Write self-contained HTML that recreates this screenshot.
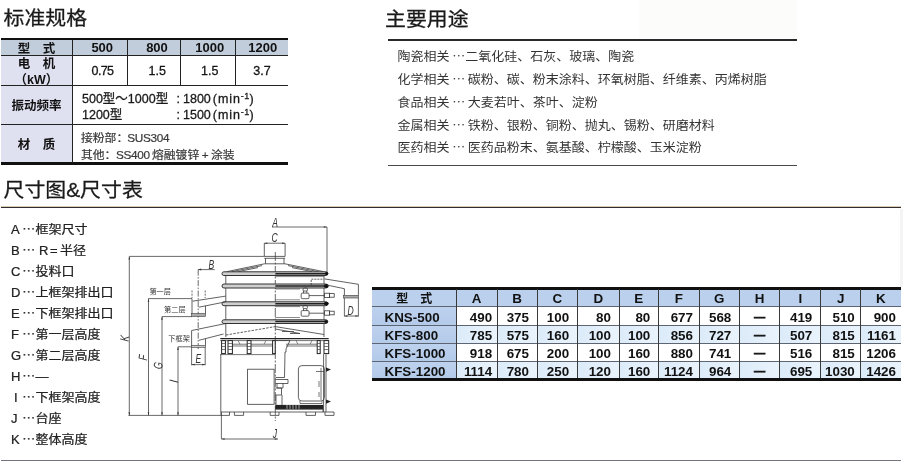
<!DOCTYPE html>
<html lang="zh-CN">
<head>
<meta charset="utf-8">
<title>标准规格</title>
<style>
html,body{margin:0;padding:0;background:#fff;}
body{width:905px;height:475px;position:relative;overflow:hidden;font-family:"Liberation Sans","Noto Sans CJK SC",sans-serif;color:#222;}
#wrap{position:absolute;left:0;top:0;width:905px;height:475px;will-change:transform;}
.abs{position:absolute;white-space:nowrap;}
.cjk{font-family:"Noto Sans CJK SC",sans-serif;}
h2{-webkit-text-stroke:0.3px #1a1a1a;transform:scaleY(0.93);transform-origin:0 50%;position:absolute;margin:0;font-weight:400;font-size:20.9px;line-height:24px;color:#1a1a1a;white-space:nowrap;}
.ln{position:absolute;background:#222;}
/* table 1 */
#t1{position:absolute;left:1px;top:38px;width:287px;height:127px;}
#t1 .c{position:absolute;box-sizing:border-box;display:flex;align-items:center;justify-content:center;text-align:center;white-space:nowrap;}
#t1 .h{background:#c1cddb;font-weight:700;font-size:12.5px;color:#111;}
#t1 .n{font-size:13px;}
#t1 .l{background:#dfe1f1;font-weight:700;font-size:12.5px;color:#111;line-height:14px;}
#t1 .v{font-size:12.5px;color:#151515;-webkit-text-stroke:0.3px #151515;padding-top:1px;}
#t1 .t3{font-size:12.5px;line-height:16px;color:#1a1a1a;font-weight:400;-webkit-text-stroke:0.3px #1a1a1a;}
#t1 .p{margin-left:2px;}
#t1 .t4{font-size:11.8px;line-height:17px;color:#383838;-webkit-text-stroke:0.2px #383838;}
#t1 .la{letter-spacing:-0.35px;}
#t1 .mn{letter-spacing:0.9px;margin-left:1px;}
#t1 sup{font-size:9px;line-height:0;vertical-align:4.5px;letter-spacing:0.3px;}
/* uses */
.use{word-spacing:-1px;transform:scaleY(0.93);transform-origin:0 50%;position:absolute;left:397.5px;font-size:13px;line-height:23px;color:#333;white-space:nowrap;}
/* table 2 */
#t2{position:absolute;left:372px;top:287.4px;width:529px;height:94px;}
#t2 .c{position:absolute;box-sizing:border-box;display:flex;align-items:center;white-space:nowrap;font-weight:700;font-size:13.4px;color:#111;padding-top:2.6px;}
#t2 .h{background:#bad0ec;justify-content:center;padding-top:1.6px;}
#t2 .hz{font-size:12px;position:relative;top:-1px;}
#t2 .m{background:linear-gradient(#bdd2ee,#b3cae9);padding-left:12.5px;}
#t2 .d{justify-content:flex-end;background:#fff;}
#t2 .alt{background:linear-gradient(90deg,#dcebf9,#e9f3fc);}
#t2 .ctr{justify-content:center;font-size:11.2px;-webkit-text-stroke:0.5px #111;padding-top:1.6px;}
#t2 .hl{background:#5d6572;}
#t2 .vl{background:#3a3a3a;}
/* legend */
.lg .k{display:inline-block;width:11px;}
.lg .e{display:inline-block;width:13.5px;text-align:center;}
.lg{transform:scaleY(0.92);transform-origin:0 50%;-webkit-text-stroke:0.25px #222;position:absolute;left:11px;font-size:13px;line-height:21px;color:#222;white-space:nowrap;}
</style>
</head>
<body>
<div id="wrap">
<!-- faint scan artefacts -->
<div style="position:absolute;left:638.5px;top:0;width:158.5px;height:38px;background:#fcfcfb;"></div>
<div style="position:absolute;left:900px;top:209px;width:3px;height:78px;background:#f4f4f4;"></div>
<h2 style="left:3.5px;top:5.7px;">标准规格</h2>
<h2 style="left:385px;top:6.6px;">主要用途</h2>
<h2 style="left:3.5px;top:177.5px;">尺寸图&amp;尺寸表</h2>

<div id="t1">
  <div class="ln" style="left:0;top:0;width:287px;height:2.6px;background:#111;"></div>
  <div class="c h" style="left:0;top:2px;width:71px;height:15px;">型&emsp;式</div>
  <div class="c h n" style="left:71px;top:2px;width:55px;height:15px;padding-left:5.5px;">500</div>
  <div class="c h n" style="left:126px;top:2px;width:54px;height:15px;padding-left:6px;">800</div>
  <div class="c h n" style="left:180px;top:2px;width:54.5px;height:15px;padding-left:3px;">1000</div>
  <div class="c h n" style="left:234.5px;top:2px;width:52.5px;height:15px;padding-left:2px;">1200</div>
  <div class="c l" style="left:0;top:17px;width:71px;height:31px;line-height:15.5px;padding-top:4px;">电&emsp;机<br>（kW）</div>
  <div class="c v" style="left:71px;top:17px;width:55px;height:31px;padding-left:6px;letter-spacing:-0.6px;">0.75</div>
  <div class="c v" style="left:126px;top:17px;width:54px;height:31px;padding-left:6.5px;">1.5</div>
  <div class="c v" style="left:180px;top:17px;width:54.5px;height:31px;padding-left:3px;">1.5</div>
  <div class="c v" style="left:234.5px;top:17px;width:52.5px;height:31px;padding-left:0.5px;">3.7</div>
  <div class="c l" style="left:0;top:48px;width:71px;height:38.5px;padding-top:2px;">振动频率</div>
  <div class="c l" style="left:0;top:86.5px;width:71px;height:38.5px;padding-top:2px;">材&emsp;质</div>

  <div class="abs t3" style="left:81px;top:53px;">500型～1000型</div>
  <div class="abs t3" style="left:81px;top:69px;">1200型</div>
  <div class="abs t3" style="left:175.5px;top:53px;">:</div>
  <div class="abs t3" style="left:175.5px;top:69px;">:</div>
  <div class="abs t3" style="left:182px;top:53px;">1800<span class="p">(</span><span class="mn">min</span><sup>-1</sup>)</div>
  <div class="abs t3" style="left:182px;top:69px;">1500<span class="p">(</span><span class="mn">min</span><sup>-1</sup>)</div>
  <div class="abs t4" style="left:80px;top:92px;">接粉部：</div>
  <div class="abs t4 la" style="left:126.3px;top:92px;">SUS304</div>
  <div class="abs t4" style="left:80px;top:109px;">其他：</div>
  <div class="abs t4 la" style="left:115px;top:109px;">SS400</div>
  <div class="abs t4" style="left:151px;top:109px;">熔融镀锌</div>
  <div class="abs t4" style="left:200.7px;top:109px;">+</div>
  <div class="abs t4" style="left:210px;top:109px;">涂装</div>
  <!-- grid lines -->
  <div class="ln" style="left:0;top:16.5px;width:287px;height:1px;"></div>
  <div class="ln" style="left:0;top:47.3px;width:287px;height:1px;"></div>
  <div class="ln" style="left:0;top:86px;width:287px;height:1px;"></div>
  <div class="ln" style="left:0;top:124.3px;width:287px;height:2.4px;background:#111;"></div>
  <div class="ln" style="left:70.5px;top:2px;width:1.5px;height:123px;"></div>
  <div class="ln" style="left:125.5px;top:2px;width:1px;height:46px;"></div>
  <div class="ln" style="left:179.3px;top:2px;width:1px;height:46px;"></div>
  <div class="ln" style="left:234px;top:2px;width:1px;height:46px;"></div>
</div>

<!-- uses -->
<div class="ln" style="left:388px;top:39px;width:409px;height:2px;background:#2a2a2a;"></div>
<div class="ln" style="left:388px;top:165px;width:409px;height:1px;background:#4a4a4a;"></div>
<div class="use" style="top:44px;">陶瓷相关 <span class="cjk">…</span>二氧化硅、石灰、玻璃、陶瓷</div>
<div class="use" style="top:67px;">化学相关 <span class="cjk">…</span> 碳粉、碳、粉末涂料、环氧树脂、纤维素、丙烯树脂</div>
<div class="use" style="top:90px;">食品相关 <span class="cjk">…</span> 大麦若叶、茶叶、淀粉</div>
<div class="use" style="top:113px;">金属相关 <span class="cjk">…</span> 铁粉、银粉、铜粉、抛丸、锡粉、研磨材料</div>
<div class="use" style="top:135px;">医药相关 <span class="cjk">…</span> 医药品粉末、氨基酸、柠檬酸、玉米淀粉</div>

<!-- section lines -->
<div class="ln" style="left:1px;top:206px;width:900px;height:1px;background:#dccab0;"></div>
<div class="ln" style="left:1px;top:206.8px;width:900px;height:1.5px;background:#2e2e32;"></div>
<div class="ln" style="left:1px;top:460px;width:900px;height:1px;background:#74747c;"></div>

<!-- legend -->
<div class="lg" style="top:218px;"><span class="k">A</span><span class="e cjk">…</span>框架尺寸</div>
<div class="lg" style="top:239px;"><span class="k">B</span><span class="e cjk">…</span> R<span style="margin:0 2.5px 0 1.5px">=</span>半径</div>
<div class="lg" style="top:260px;"><span class="k">C</span><span class="e cjk">…</span>投料口</div>
<div class="lg" style="top:281px;"><span class="k">D</span><span class="e cjk">…</span>上框架排出口</div>
<div class="lg" style="top:302px;"><span class="k">E</span><span class="e cjk">…</span>下框架排出口</div>
<div class="lg" style="top:323px;"><span class="k">F</span><span class="e cjk">…</span>第一层高度</div>
<div class="lg" style="top:344px;"><span class="k">G</span><span class="e cjk">…</span>第二层高度</div>
<div class="lg" style="top:365px;"><span class="k">H</span><span class="e cjk">…</span>—</div>
<div class="lg" style="top:386px;"><span class="k" style="padding-left:3px;width:8px;">I</span><span class="e cjk">…</span>下框架高度</div>
<div class="lg" style="top:407px;"><span class="k">J</span><span class="e cjk">…</span>台座</div>
<div class="lg" style="top:428px;"><span class="k">K</span><span class="e cjk">…</span>整体高度</div>

<!-- table 2 -->
<div id="t2">
  <div class="c h" style="left:0px;top:2.5px;width:84.3px;height:16.5px;"><span class="hz">型&emsp;式</span></div>
  <div class="c h" style="left:84.3px;top:2.5px;width:40.7px;height:16.5px;">A</div>
  <div class="c h" style="left:125px;top:2.5px;width:40px;height:16.5px;">B</div>
  <div class="c h" style="left:165px;top:2.5px;width:40.5px;height:16.5px;">C</div>
  <div class="c h" style="left:205.5px;top:2.5px;width:41.7px;height:16.5px;">D</div>
  <div class="c h" style="left:247.2px;top:2.5px;width:39.3px;height:16.5px;">E</div>
  <div class="c h" style="left:286.5px;top:2.5px;width:40.5px;height:16.5px;">F</div>
  <div class="c h" style="left:327px;top:2.5px;width:40.5px;height:16.5px;">G</div>
  <div class="c h" style="left:367.5px;top:2.5px;width:40.3px;height:16.5px;">H</div>
  <div class="c h" style="left:407.8px;top:2.5px;width:41px;height:16.5px;">I</div>
  <div class="c h" style="left:448.8px;top:2.5px;width:40px;height:16.5px;">J</div>
  <div class="c h" style="left:488.8px;top:2.5px;width:40.2px;height:16.5px;">K</div>
  <div class="c m" style="left:0px;top:19px;width:84.3px;height:18.7px;">KNS-500</div>
  <div class="c d" style="left:84.3px;top:19px;width:40.7px;height:18.7px;padding-right:4.8px;">490</div>
  <div class="c d" style="left:125px;top:19px;width:40px;height:18.7px;padding-right:8px;">375</div>
  <div class="c d" style="left:165px;top:19px;width:40.5px;height:18.7px;padding-right:8.3px;">100</div>
  <div class="c d" style="left:205.5px;top:19px;width:41.7px;height:18.7px;padding-right:8.2px;">80</div>
  <div class="c d" style="left:247.2px;top:19px;width:39.3px;height:18.7px;padding-right:8.2px;">80</div>
  <div class="c d" style="left:286.5px;top:19px;width:40.5px;height:18.7px;padding-right:6px;">677</div>
  <div class="c d" style="left:327px;top:19px;width:40.5px;height:18.7px;padding-right:8.2px;">568</div>
  <div class="c d ctr" style="left:367.5px;top:19px;width:40.3px;height:18.7px;">—</div>
  <div class="c d" style="left:407.8px;top:19px;width:41px;height:18.7px;padding-right:8.5px;">419</div>
  <div class="c d" style="left:448.8px;top:19px;width:40px;height:18.7px;padding-right:6px;">510</div>
  <div class="c d" style="left:488.8px;top:19px;width:40.2px;height:18.7px;padding-right:5px;">900</div>
  <div class="c m" style="left:0px;top:37.7px;width:84.3px;height:18px;">KFS-800</div>
  <div class="c d alt" style="left:84.3px;top:37.7px;width:40.7px;height:18px;padding-right:4.8px;">785</div>
  <div class="c d alt" style="left:125px;top:37.7px;width:40px;height:18px;padding-right:8px;">575</div>
  <div class="c d alt" style="left:165px;top:37.7px;width:40.5px;height:18px;padding-right:8.3px;">160</div>
  <div class="c d alt" style="left:205.5px;top:37.7px;width:41.7px;height:18px;padding-right:8.2px;">100</div>
  <div class="c d alt" style="left:247.2px;top:37.7px;width:39.3px;height:18px;padding-right:8.2px;">100</div>
  <div class="c d alt" style="left:286.5px;top:37.7px;width:40.5px;height:18px;padding-right:6px;">856</div>
  <div class="c d alt" style="left:327px;top:37.7px;width:40.5px;height:18px;padding-right:8.2px;">727</div>
  <div class="c d alt ctr" style="left:367.5px;top:37.7px;width:40.3px;height:18px;">—</div>
  <div class="c d alt" style="left:407.8px;top:37.7px;width:41px;height:18px;padding-right:8.5px;">507</div>
  <div class="c d alt" style="left:448.8px;top:37.7px;width:40px;height:18px;padding-right:6px;">815</div>
  <div class="c d alt" style="left:488.8px;top:37.7px;width:40.2px;height:18px;padding-right:5px;">1161</div>
  <div class="c m" style="left:0px;top:55.7px;width:84.3px;height:18.1px;">KFS-1000</div>
  <div class="c d" style="left:84.3px;top:55.7px;width:40.7px;height:18.1px;padding-right:4.8px;">918</div>
  <div class="c d" style="left:125px;top:55.7px;width:40px;height:18.1px;padding-right:8px;">675</div>
  <div class="c d" style="left:165px;top:55.7px;width:40.5px;height:18.1px;padding-right:8.3px;">200</div>
  <div class="c d" style="left:205.5px;top:55.7px;width:41.7px;height:18.1px;padding-right:8.2px;">100</div>
  <div class="c d" style="left:247.2px;top:55.7px;width:39.3px;height:18.1px;padding-right:8.2px;">160</div>
  <div class="c d" style="left:286.5px;top:55.7px;width:40.5px;height:18.1px;padding-right:6px;">880</div>
  <div class="c d" style="left:327px;top:55.7px;width:40.5px;height:18.1px;padding-right:8.2px;">741</div>
  <div class="c d ctr" style="left:367.5px;top:55.7px;width:40.3px;height:18.1px;">—</div>
  <div class="c d" style="left:407.8px;top:55.7px;width:41px;height:18.1px;padding-right:8.5px;">516</div>
  <div class="c d" style="left:448.8px;top:55.7px;width:40px;height:18.1px;padding-right:6px;">815</div>
  <div class="c d" style="left:488.8px;top:55.7px;width:40.2px;height:18.1px;padding-right:5px;">1206</div>
  <div class="c m" style="left:0px;top:73.8px;width:84.3px;height:17.2px;">KFS-1200</div>
  <div class="c d alt" style="left:84.3px;top:73.8px;width:40.7px;height:17.2px;padding-right:4.8px;">1114</div>
  <div class="c d alt" style="left:125px;top:73.8px;width:40px;height:17.2px;padding-right:8px;">780</div>
  <div class="c d alt" style="left:165px;top:73.8px;width:40.5px;height:17.2px;padding-right:8.3px;">250</div>
  <div class="c d alt" style="left:205.5px;top:73.8px;width:41.7px;height:17.2px;padding-right:8.2px;">120</div>
  <div class="c d alt" style="left:247.2px;top:73.8px;width:39.3px;height:17.2px;padding-right:8.2px;">160</div>
  <div class="c d alt" style="left:286.5px;top:73.8px;width:40.5px;height:17.2px;padding-right:6px;">1124</div>
  <div class="c d alt" style="left:327px;top:73.8px;width:40.5px;height:17.2px;padding-right:8.2px;">964</div>
  <div class="c d alt ctr" style="left:367.5px;top:73.8px;width:40.3px;height:17.2px;">—</div>
  <div class="c d alt" style="left:407.8px;top:73.8px;width:41px;height:17.2px;padding-right:8.5px;">695</div>
  <div class="c d alt" style="left:448.8px;top:73.8px;width:40px;height:17.2px;padding-right:6px;">1030</div>
  <div class="c d alt" style="left:488.8px;top:73.8px;width:40.2px;height:17.2px;padding-right:5px;">1426</div>
  <div class="ln" style="left:0;top:0;width:529px;height:2.6px;background:#111;"></div>
  <div class="ln" style="left:0;top:91px;width:529px;height:2.3px;background:#111;"></div>
  <div class="ln hl" style="left:0;top:18.5px;width:529px;height:1px;"></div>
  <div class="ln hl" style="left:0;top:37.2px;width:529px;height:1px;"></div>
  <div class="ln hl" style="left:0;top:55.2px;width:529px;height:1px;"></div>
  <div class="ln hl" style="left:0;top:73.3px;width:529px;height:1px;"></div>
  <div class="ln vl" style="left:83.8px;top:2px;width:1px;height:89px;"></div>
  <div class="ln vl" style="left:124.5px;top:2px;width:1px;height:89px;"></div>
  <div class="ln vl" style="left:164.5px;top:2px;width:1px;height:89px;"></div>
  <div class="ln vl" style="left:205px;top:2px;width:1px;height:89px;"></div>
  <div class="ln vl" style="left:246.7px;top:2px;width:1px;height:89px;"></div>
  <div class="ln vl" style="left:286px;top:2px;width:1px;height:89px;"></div>
  <div class="ln vl" style="left:326.5px;top:2px;width:1px;height:89px;"></div>
  <div class="ln vl" style="left:367px;top:2px;width:1px;height:89px;"></div>
  <div class="ln vl" style="left:407.3px;top:2px;width:1px;height:89px;"></div>
  <div class="ln vl" style="left:448.3px;top:2px;width:1px;height:89px;"></div>
  <div class="ln vl" style="left:488.3px;top:2px;width:1px;height:89px;"></div>
</div>
<!-- diagram -->
<svg id="dg" width="905" height="475" viewBox="0 0 905 475" style="position:absolute;left:0;top:0;" fill="none" stroke="#3a3a3a" stroke-width="0.8" font-family="'Liberation Sans','Noto Sans CJK SC',sans-serif">
  <!-- dimension lines -->
  <g stroke="#444" stroke-width="0.8">
    <path d="M129.3 415.4V256.4H264.3"/>
    <path d="M148.5 415.4V298.6H192"/>
    <path d="M162 415.4V316.6H192"/>
    <path d="M178 415.4V346.8H191.6"/>
    <path d="M128.4 415.4H221.4"/>
    <path d="M221.4 412V439H278"/>
    <path d="M272 227H327V273"/>
    <path d="M264.3 243.2H285.1"/>
    <path d="M198.2 269.6H214.7"/>
    <path d="M191.6 347V365.2M205.2 347V365.2M191.6 364.6H205.2"/>
    <path d="M344.4 298V316.5M358.4 298V316.5M344.4 316H358.4"/>
    <path d="M192 290.5V298M205.2 290.5V298" stroke-dasharray="2 1.2"/>
    <path d="M198.2 269.6V350" stroke-dasharray="6 1.5 1.5 1.5"/>
    <path d="M275.3 252V421" stroke-dasharray="9 1.5 2 1.5"/>
  </g>
  <!-- inlet -->
  <path d="M264.3 243.2V256.4H285.1V243.2M264.3 258.3H285.1M265.5 258.3V263.8M284 258.3V263.8M264.5 263.8H285"/>
  <!-- lid -->
  <path d="M264.5 263.8L227 271.6M285 263.8L323.5 271.6M262 265.6L232 271.6M288 265.6L318 271.6M258 267.6L238 271.6M292 267.6L312 271.6"/>
  <!-- rings -->
  <g stroke="#333" stroke-width="1" fill="#cfcfcf">
    <rect x="222" y="271.8" width="105.8" height="3.7" rx="1.85"/>
    <rect x="222" y="284" width="105.8" height="4" rx="2"/>
    <rect x="222" y="301.8" width="105.8" height="3.9" rx="1.95"/>
    <rect x="222" y="319.8" width="105.8" height="3.7" rx="1.85"/>
  </g>
  <!-- walls -->
  <path d="M225.8 275.5V284M225.8 288V301.8M225.8 305.7V319.8M225.8 323.5V337M324 275.5V284M324 288V301.8M324 305.7V319.8M324 323.5V337"/>
  <!-- right-half heavy section lines -->
  <g stroke="#222" stroke-width="1.5">
    <path d="M275.3 273.7H325M275.3 286H325M275.3 303.8H325M275.3 321.6H325"/>
  </g>
  <path d="M275.3 276.6H324M275.3 289H300M275.3 306.6H300M275.3 299.8H300M275.3 317.5H300" stroke-width="0.6"/>
  <g fill="#111" stroke="none">
    <ellipse cx="326.5" cy="273.4" rx="1.8" ry="1.5"/>
    <ellipse cx="326.3" cy="286" rx="2.4" ry="1.9"/>
    <ellipse cx="326.3" cy="303.6" rx="2.4" ry="1.9"/>
    <ellipse cx="326" cy="321.4" rx="1.8" ry="1.5"/>
  </g>
  <!-- inner cone -->
  <path d="M226 335L275.3 326.6" stroke-dasharray="2.5 1.2"/>
  <path d="M275.3 326.6L324 334.5M275.3 329L300 333.5H290M282 331.5H294"/>
  <!-- clamps -->
  <g stroke-width="0.8">
    <rect x="301.2" y="293.1" width="7.8" height="5.6" rx="1"/>
    <rect x="303" y="288" width="4.4" height="3" rx="1"/>
    <path d="M303.5 291V293.1M306.8 291V293.1M309 295.6H324"/>
    <rect x="324.6" y="293.2" width="5" height="4.4"/><rect x="329.6" y="293.6" width="4.6" height="3.6"/>
    <rect x="301.2" y="310.6" width="7.8" height="5.6" rx="1"/>
    <rect x="303" y="305.6" width="4.4" height="3" rx="1"/>
    <path d="M303.5 308.6V310.6M306.8 308.6V310.6M309 313.2H324"/>
    <rect x="324.6" y="310.8" width="5" height="4.4"/><rect x="329.6" y="311.2" width="4.6" height="3.6"/>
    <path d="M311.2 285V279.2H323.7" stroke-dasharray="2 1"/>
  </g>
  <!-- D outlet -->
  <path d="M324.5 278.9L358.4 284.3V295.4M326.7 285L344.4 288.7V295.4"/>
  <rect x="343.6" y="295.4" width="15" height="2.6" fill="#aaa" stroke-width="0.6"/>
  <!-- outlet 1 (left upper) -->
  <path d="M225.8 296.1L192.5 301.2M192 298.6V313.6M225.8 301.8L198.9 307.2M205.5 306V313.6"/>
  <rect x="191.6" y="313.6" width="14" height="2.8" fill="#aaa" stroke-width="0.6"/>
  <!-- outlet E (left lower) -->
  <path d="M225.8 323.5L191.6 330.5V345.3M223.5 334L198.9 340.3M205.5 338.7V345.3"/>
  <rect x="191.3" y="345.3" width="14.2" height="2" fill="#ccc" stroke-width="0.6"/>
  <!-- spring deck -->
  <path d="M220.3 338.6H328.7" stroke="#222" stroke-width="1.4"/>
  <path d="M220.3 340.6H328.7M232 344.2H272M232 346H272M286 344.2H317M286 346H317M220.3 354.6H275" stroke-width="0.7"/>
  <g stroke="#222" stroke-width="1" fill="#fff">
    <rect x="221.6" y="340.6" width="3.8" height="13"/>
    <rect x="228" y="340.6" width="4.4" height="13"/>
    <rect x="247.2" y="340.6" width="3.8" height="13"/>
    <rect x="272.6" y="340.6" width="2.6" height="13"/>
    <rect x="317.2" y="340.6" width="3" height="13"/>
    <rect x="324" y="340.6" width="4.7" height="13"/>
  </g>
  <path d="M221.6 343.5H225.4M221.6 346.5H225.4M221.6 349.5H225.4M228 343.5H232.4M228 346.5H232.4M228 349.5H232.4M247.2 343.5H251M247.2 346.5H251M247.2 349.5H251M324 343.5H328.7M324 346.5H328.7M324 349.5H328.7M317.2 343.5H320.2M317.2 346.5H320.2M317.2 349.5H320.2" stroke="#444" stroke-width="0.7"/>
  <path d="M238 340.6L240 344.2M266 340.6L264 344.2M296 340.6L298 344.2M312 340.6L310 344.2" stroke-width="0.6"/>
  <!-- base -->
  <path d="M220.8 354.2V412M323.6 354.2V412M326 354.2V412M220.8 412H334"/>
  <path d="M221 412V415.4H229.5V412M234.4 412V415.4H243.6V412M270.2 412V415.4H279V412M306 412V415.4H315.5V412M325 412V415.4H334V412"/>
  <rect x="247.6" y="369.2" width="26.5" height="35.1"/>
  <rect x="298.4" y="365.6" width="26" height="35.4" rx="3.5"/>
  <path d="M300 401V403.5H322V401M316 371.5H324M319 381V387M319 392V397M321 368V400" stroke-width="0.7"/>
  <rect x="275.3" y="404.9" width="48" height="4.3" fill="#222" stroke="none"/>
  <path d="M287 405V409M290 405V409M293 405V409M296 405V409M299 405V409" stroke="#ddd" stroke-width="0.7"/>
  <!-- shaft -->
  <path d="M276 340.4H290L286 349V352H285L284.5 377.5H275.5M275.5 379.5H288V383.5H275.5M277 383.5V388H283V383.5M275.5 388H281.5V395H275.5M276 395V404.9M282 395V404.9M275.3 409.2H323V412"/>
  <g fill="#222" stroke="none">
    <path d="M326 367.4L331 369.6L326 371.8Z"/><path d="M326 399.4L331 401.6L326 403.8Z"/>
  </g>
  <!-- arrows -->
  <path d="M129.3 256.4l-0.8 3.2h1.6ZM129.3 415.4l-0.8 -3.2h1.6ZM148.5 298.6l-0.8 3.2h1.6ZM148.5 415.4l-0.8 -3.2h1.6ZM162 316.6l-0.8 3.2h1.6ZM162 415.4l-0.8 -3.2h1.6ZM178 346.8l-0.8 3.2h1.6ZM178 415.4l-0.8 -3.2h1.6ZM221.4 439l3.2 -0.8v1.6ZM278 439l-3.2 -0.8v1.6ZM327 227l-3.2 -0.8v1.6ZM264.3 243.2l3 -0.8v1.6ZM285.1 243.2l-3 -0.8v1.6ZM191.6 364.6l3 -0.8v1.6ZM205.2 364.6l-3 -0.8v1.6ZM344.4 316l3 -0.8v1.6ZM358.4 316l-3 -0.8v1.6Z" fill="#333" stroke="none"/>
  <path d="M198.2 269.6L201.2 268.6V270.6Z" fill="#333" stroke="none"/>
  <!-- labels -->
  <g stroke="none" fill="#333" font-style="italic" font-size="12.6">
    <text transform="translate(272.2 226.6) scale(0.68 1)">A</text>
    <text transform="translate(271.6 242.2) scale(0.68 1)">C</text>
    <text transform="translate(208.4 268.6) scale(0.68 1)">B</text>
    <text transform="translate(347.6 314.6) scale(0.68 1)">D</text>
    <text transform="translate(195.6 363.4) scale(0.68 1)">E</text>
    <text transform="translate(272.8 437.8) scale(0.68 1)">J</text>
    <text transform="translate(128.6 341.8) rotate(-83) scale(0.7 1)">K</text>
    <text transform="translate(147 360.8) rotate(-83) scale(0.7 1)">F</text>
    <text transform="translate(162 369.6) rotate(-83) scale(0.7 1)">G</text>
    <text transform="translate(178 383) rotate(-83) scale(0.7 1)">I</text>
  </g>
  <g stroke="none" fill="#333" font-size="7.2">
    <text x="149.4" y="294.4">第一层</text>
    <text x="164" y="312">第二层</text>
    <text x="168.3" y="341">下框架</text>
  </g>
</svg>
</div>
</body>
</html>
